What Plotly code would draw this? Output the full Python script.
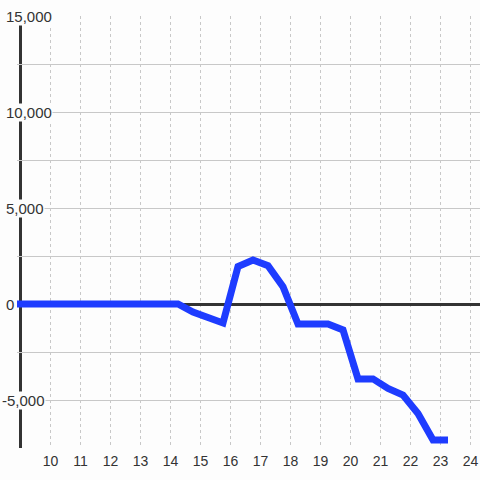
import plotly.graph_objects as go

# data (hour of day, value)
hours = [8.75, 9.25, 9.75, 10.25, 10.75, 11.25, 11.75, 12.25, 12.75, 13.25, 13.75,
         14.25, 14.75, 15.25, 15.75, 16.25, 16.75, 17.25, 17.75, 18.25, 18.75,
         19.25, 19.75, 20.25, 20.75, 21.25, 21.75, 22.25, 22.75, 23.25]
values = [0, 0, 0, 0, 0, 0, 0, 0, 0, 0, 0,
          0, -420, -700, -990, 1950, 2290, 2000, 900, -1040, -1040,
          -1040, -1350, -3900, -3900, -4400, -4740, -5700, -7080, -7080]

x_ticks = list(range(10, 25))
y_grid = [15000, 12500, 10000, 7500, 5000, 2500, 0, -2500, -5000, -7500]
y_labels = [15000, 10000, 5000, 0, -5000]

BG = "#fdfdfd"
TXT = "#333333"
FONT = "Liberation Sans, Arial, sans-serif"

W, H = 480, 480
ML, MR, MT, MB = 17, 0, 16, 32
pw = W - ML - MR
x0 = 10 - (50.5 - ML) / 30.0
x1 = x0 + pw / 30.0

fig = go.Figure()
fig.add_trace(go.Scatter(x=hours, y=values, mode="lines",
                         line=dict(color="#1e3cff", width=7),
                         hoverinfo="skip", showlegend=False))

fig.add_shape(type="line", xref="x", yref="paper", x0=9, x1=9, y0=0, y1=1,
              line=dict(color=TXT, width=3), layer="between")

for v in y_labels:
    left_px = 5 if v >= 0 else 1
    fig.add_annotation(xref="paper", yref="y", x=(left_px - ML) / pw, y=v,
                       xanchor="left", yanchor="middle", showarrow=False,
                       text=f"{v:,}", bgcolor=BG, borderpad=0,
                       font=dict(family=FONT, size=15, color=TXT))

fig.update_layout(
    width=W, height=H, margin=dict(l=ML, r=MR, t=MT, b=MB),
    paper_bgcolor=BG, plot_bgcolor=BG, showlegend=False,
    xaxis=dict(range=[x0, x1], tickvals=x_ticks, ticktext=[str(t) for t in x_ticks],
               showgrid=True, gridcolor="#c8c8c8", gridwidth=1, griddash="dot",
               zeroline=False, showline=False, ticks="", ticklabelstandoff=3,
               tickfont=dict(family=FONT, size=14, color=TXT)),
    yaxis=dict(range=[-7500, 15000], tickvals=y_grid, showticklabels=False,
               showgrid=True, gridcolor="#c8c8c8", gridwidth=1,
               zeroline=True, zerolinecolor=TXT, zerolinewidth=3,
               showline=False, ticks=""),
)

fig.write_html("out.html", config={"displayModeBar": False},
               post_script="document.body.style.margin='0';")
